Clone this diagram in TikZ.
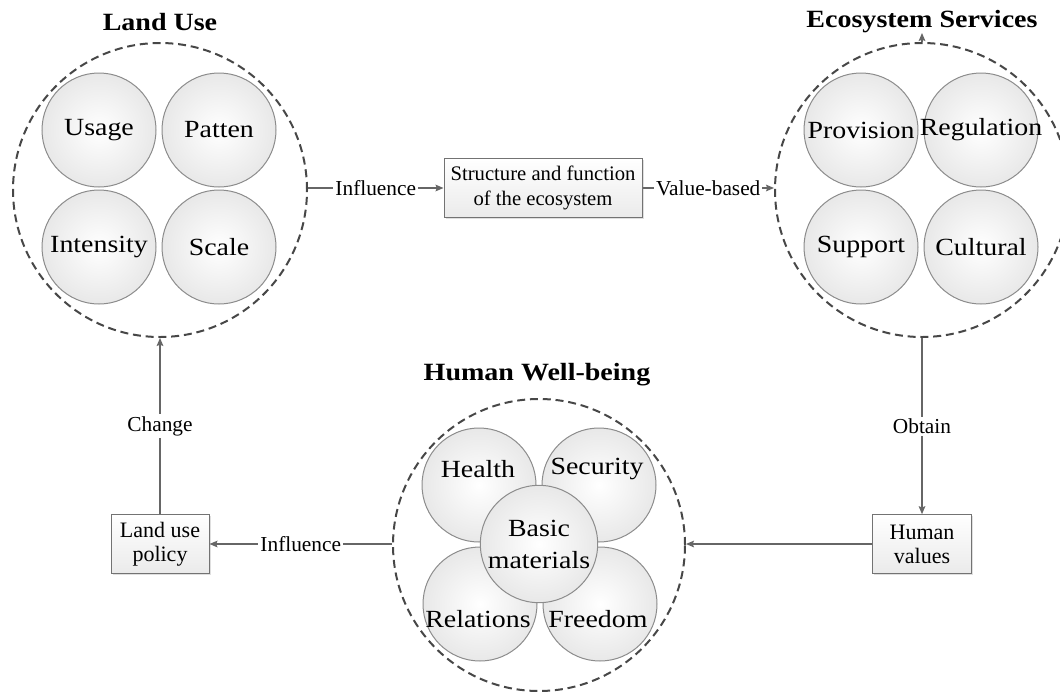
\documentclass[tikz,border=0pt]{standalone}
\usepackage{fontspec}
\setmainfont{Liberation Serif}
\newfontfamily\widefont[FakeStretch=1.13]{Liberation Serif}
\usetikzlibrary{arrows.meta,shadows}

\begin{document}
\begin{tikzpicture}[x=0.75pt,y=-0.75pt,
  ring/.style={circle, draw=black!72, line width=1.5pt, dash pattern=on 6pt off 3.6pt,
    minimum size=220.5pt, inner sep=0pt},
  ball/.style={circle, draw=black!45, line width=0.75pt, inner color=white, outer color=black!9,
    minimum size=85.5pt, inner sep=0pt},
  balltext/.style={inner sep=0pt, align=center, font=\widefont\fontsize{18.5}{24}\selectfont},
  title/.style={inner sep=0pt, font=\widefont\bfseries\fontsize{18.6}{20}\selectfont},
  stepbox/.style={draw=black!55, line width=0.75pt, top color=white, bottom color=black!8,
    drop shadow={shadow xshift=1.2pt, shadow yshift=-1.2pt, opacity=0.25},
    align=center, inner sep=2pt, minimum height=44pt},
  conn/.style={draw=black!60, line width=0.9pt, -{Stealth[length=6pt,width=5pt,inset=1pt]}},
  lbl/.style={fill=white, inner sep=1.5pt, font=\fontsize{16}{18}\selectfont}
]
\useasboundingbox (0,0) rectangle (1060,693);

% ---------- Land Use ----------
\node[title] (lutitle) at (160,22) {Land Use};
\node[ring] (lu) at (160,190) {};
\node[ball, label={[balltext]center:Usage}] (usage) at (99,130) {};
\node[ball, label={[balltext]center:Patten}] (patten) at (219,130) {};
\node[ball, label={[balltext]center:Intensity}] (intensity) at (99,247) {};
\node[ball, label={[balltext]center:Scale}] (scale) at (219,247) {};

% ---------- Ecosystem Services ----------
\node[title] (estitle) at (922,22) {Ecosystem Services};
\node[ring] (es) at (922,190) {};
\node[ball, label={[balltext]center:Provision}] (provision) at (861,130) {};
\node[ball, label={[balltext]center:Regulation}] (regulation) at (981,130) {};
\node[ball, label={[balltext]center:Support}] (support) at (861,247) {};
\node[ball, label={[balltext]center:Cultural}] (cultural) at (981,247) {};

% ---------- Human Well-being ----------
\node[title] (hwtitle) at (537,375) {Human Well-being};
\node[ring, minimum size=219pt] (hw) at (539,545) {};
\node[ball] (health) at (479,485) {};
\node[ball] (security) at (599,485) {};
\node[ball] (relations) at (480,604) {};
\node[ball] (freedom) at (600,604) {};
\node[balltext] (healtht) at (478,469) {Health};
\node[balltext] (securityt) at (597,469) {Security};
\node[balltext] (relationst) at (478,619) {Relations};
\node[balltext] (freedomt) at (598,619) {Freedom};
\node[ball, minimum size=88pt, label={[balltext]center:Basic\\materials}] (basic) at (539,544) {};

% ---------- boxes ----------
\node[stepbox, minimum width=148.5pt, font=\fontsize{15.5}{18.75}\selectfont]
  (struct) at (543,188) {Structure and function\\of the ecosystem};
\node[stepbox, minimum width=73.5pt, font=\fontsize{16.5}{18}\selectfont]
  (policy) at (160,544) {Land use\\policy};
\node[stepbox, minimum width=74pt, font=\fontsize{16.5}{18}\selectfont]
  (values) at (922,544) {Human\\values};

% ---------- connectors ----------
\draw[conn] (lu.east |- struct.west) -- (struct.west) node[midway,lbl] {Influence};
\draw[conn] (struct.east) -- (es.west |- struct.east) node[midway,lbl] {Value-based};
\draw[conn] (es.south) -- (values.north) node[midway,lbl] {Obtain};
\draw[conn] (values.west) -- (hw.east |- values.west);
\draw[conn] (hw.west |- policy.east) -- (policy.east) node[midway,lbl] {Influence};
\draw[conn] (policy.north) -- (lu.south) node[midway,lbl] {Change};
\coordinate (estop) at (922,33);
\draw[conn] (es.north) -- (estop);
\end{tikzpicture}
\end{document}
